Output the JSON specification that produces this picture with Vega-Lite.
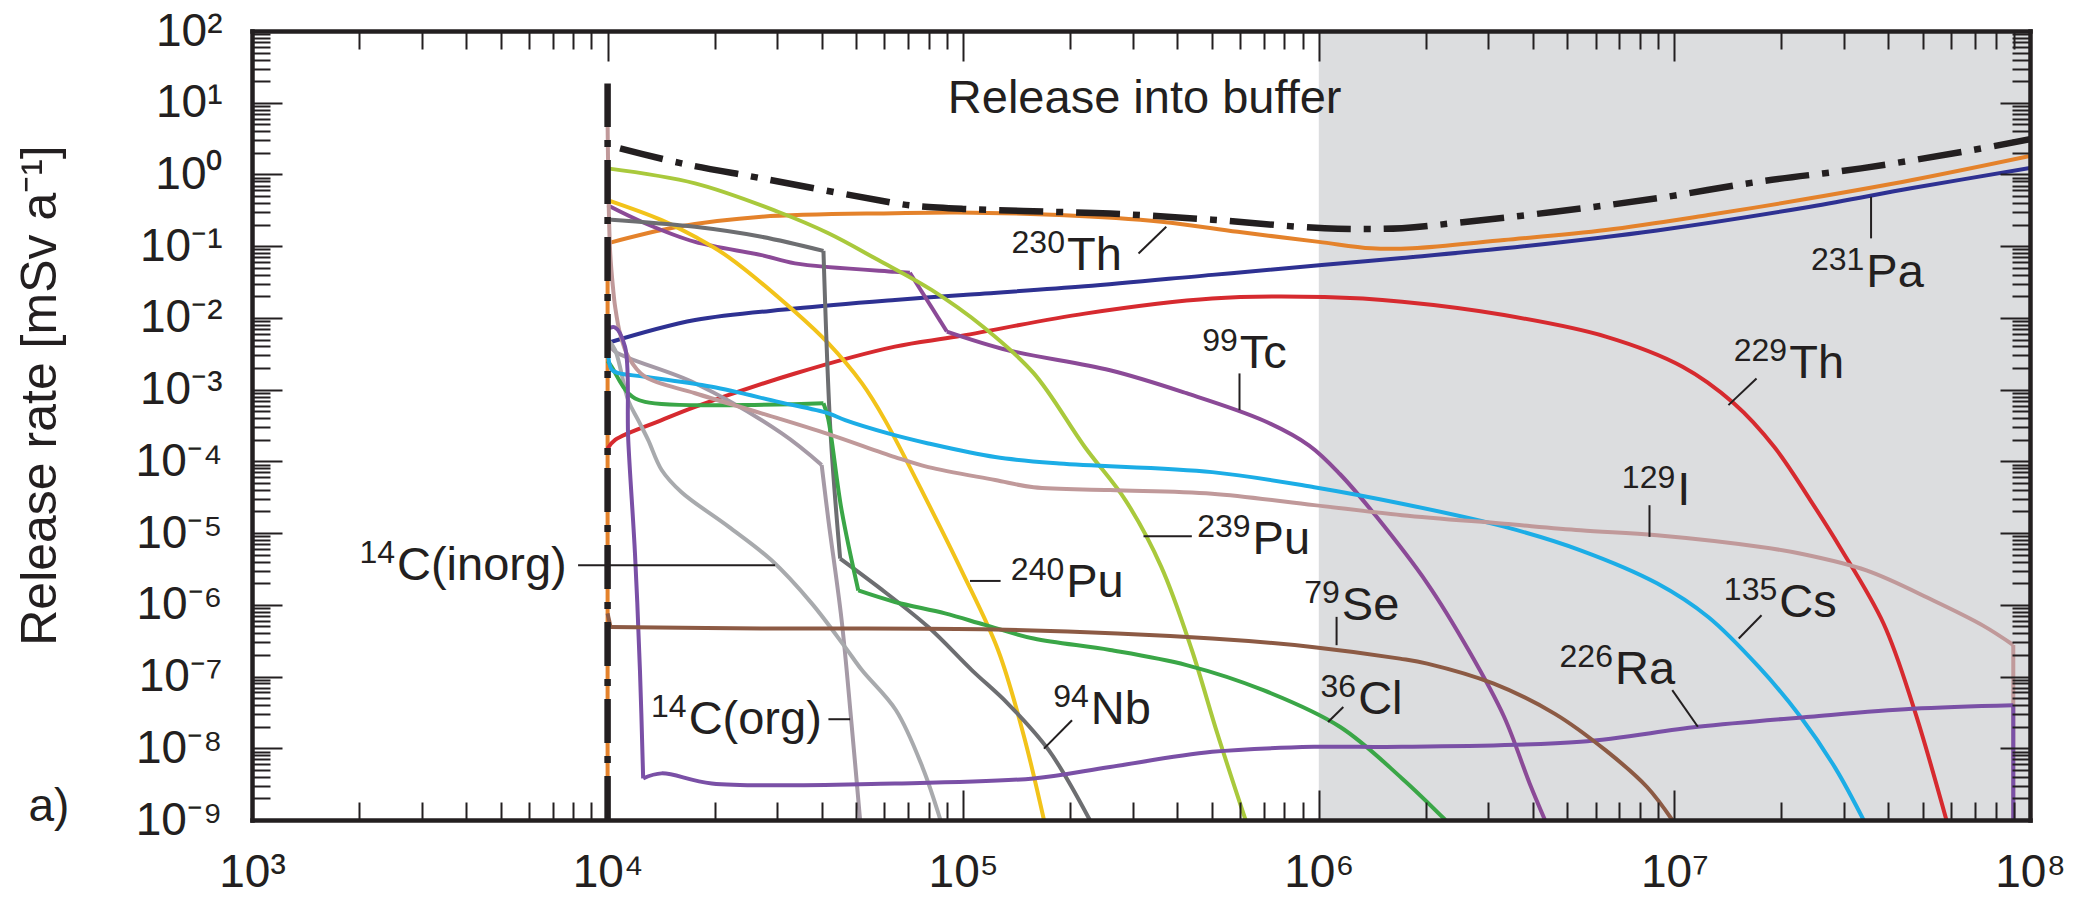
{
  "$schema": "https://vega.github.io/schema/vega-lite/v6.json",
  "width": 1778,
  "height": 789,
  "autosize": {"type": "none"},
  "padding": {"left": 252, "top": 31, "right": 70, "bottom": 78},
  "background": "white",
  "config": {"view": {"stroke": null}, "font": "Liberation Sans", "axis": {"grid": false}},
  "datasets": {
    "band": [{"t": 1000000, "t2": 100000000}],
    "total": [
      {"g": "v", "i": 1, "t": 10000, "r": 1e-9}, {"g": "v", "i": 2, "t": 10000, "r": 18.6},
      {"g": "a", "i": 3, "t": 10840, "r": 2.312},
      {"g": "a", "i": 4, "t": 16140, "r": 1.429}, {"g": "a", "i": 5, "t": 27100, "r": 0.883}, {"g": "a", "i": 6, "t": 64270, "r": 0.398},
      {"g": "a", "i": 7, "t": 73790, "r": 0.363}, {"g": "a", "i": 8, "t": 100000, "r": 0.331}, {"g": "a", "i": 9, "t": 147600, "r": 0.309},
      {"g": "a", "i": 10, "t": 258800, "r": 0.285}, {"g": "a", "i": 11, "t": 501200, "r": 0.234}, {"g": "a", "i": 12, "t": 1038000, "r": 0.178},
      {"g": "a", "i": 13, "t": 1714000, "r": 0.178}, {"g": "a", "i": 14, "t": 2382000, "r": 0.209}, {"g": "a", "i": 15, "t": 4613000, "r": 0.302},
      {"g": "a", "i": 16, "t": 8933000, "r": 0.465}, {"g": "a", "i": 17, "t": 17300000, "r": 0.794}, {"g": "a", "i": 18, "t": 33500000, "r": 1.216},
      {"g": "a", "i": 19, "t": 64860000, "r": 2.075}, {"g": "a", "i": 20, "t": 100000000, "r": 3.09}
    ],
    "curves": [
      {"s": "230Th", "g": "230Th-v", "i": 1, "t": 10000, "r": 1e-9}, {"s": "230Th", "g": "230Th-v", "i": 2, "t": 10000, "r": 0.1096},
      {"s": "230Th", "g": "230Th-a", "i": 2, "t": 10000, "r": 0.1096},
      {"s": "230Th", "g": "230Th-a", "i": 3, "t": 15780, "r": 0.1862}, {"s": "230Th", "g": "230Th-a", "i": 4, "t": 27100, "r": 0.257},
      {"s": "230Th", "g": "230Th-a", "i": 5, "t": 64270, "r": 0.2884}, {"s": "230Th", "g": "230Th-a", "i": 6, "t": 96160, "r": 0.2951},
      {"s": "230Th", "g": "230Th-a", "i": 7, "t": 186200, "r": 0.2716}, {"s": "230Th", "g": "230Th-a", "i": 8, "t": 360600, "r": 0.2188},
      {"s": "230Th", "g": "230Th-a", "i": 9, "t": 591600, "r": 0.1585}, {"s": "230Th", "g": "230Th-a", "i": 10, "t": 1000000, "r": 0.1148},
      {"s": "230Th", "g": "230Th-a", "i": 11, "t": 1406000, "r": 0.0933}, {"s": "230Th", "g": "230Th-a", "i": 12, "t": 1832000, "r": 0.0933},
      {"s": "230Th", "g": "230Th-a", "i": 13, "t": 3319000, "r": 0.1216}, {"s": "230Th", "g": "230Th-a", "i": 14, "t": 6412000, "r": 0.1679},
      {"s": "230Th", "g": "230Th-a", "i": 15, "t": 12450000, "r": 0.2716}, {"s": "230Th", "g": "230Th-a", "i": 16, "t": 24100000, "r": 0.4645},
      {"s": "230Th", "g": "230Th-a", "i": 17, "t": 46670000, "r": 0.8356}, {"s": "230Th", "g": "230Th-a", "i": 18, "t": 100000000, "r": 1.807},

      {"s": "231Pa", "g": "231Pa", "i": 1, "t": 10000, "r": 0.004467}, {"s": "231Pa", "g": "231Pa", "i": 2, "t": 17620, "r": 0.00933},
      {"s": "231Pa", "g": "231Pa", "i": 3, "t": 33650, "r": 0.01349}, {"s": "231Pa", "g": "231Pa", "i": 4, "t": 64270, "r": 0.01778},
      {"s": "231Pa", "g": "231Pa", "i": 5, "t": 100000, "r": 0.02089}, {"s": "231Pa", "g": "231Pa", "i": 6, "t": 219800, "r": 0.02754},
      {"s": "231Pa", "g": "231Pa", "i": 7, "t": 501200, "r": 0.03981}, {"s": "231Pa", "g": "231Pa", "i": 8, "t": 1038000, "r": 0.05495},
      {"s": "231Pa", "g": "231Pa", "i": 9, "t": 1714000, "r": 0.06839}, {"s": "231Pa", "g": "231Pa", "i": 10, "t": 3319000, "r": 0.0933},
      {"s": "231Pa", "g": "231Pa", "i": 11, "t": 8933000, "r": 0.166}, {"s": "231Pa", "g": "231Pa", "i": 12, "t": 24100000, "r": 0.3548},
      {"s": "231Pa", "g": "231Pa", "i": 13, "t": 46670000, "r": 0.6457}, {"s": "231Pa", "g": "231Pa", "i": 14, "t": 100000000, "r": 1.23},

      {"s": "229Th", "g": "229Th", "i": 1, "t": 10000, "r": 0.0001514}, {"s": "229Th", "g": "229Th", "i": 2, "t": 10500, "r": 0.0001995},
      {"s": "229Th", "g": "229Th", "i": 3, "t": 14190, "r": 0.0003758}, {"s": "229Th", "g": "229Th", "i": 4, "t": 17620, "r": 0.0005754},
      {"s": "229Th", "g": "229Th", "i": 5, "t": 33650, "r": 0.001679}, {"s": "229Th", "g": "229Th", "i": 6, "t": 64270, "r": 0.003981},
      {"s": "229Th", "g": "229Th", "i": 7, "t": 96160, "r": 0.005495}, {"s": "229Th", "g": "229Th", "i": 8, "t": 219800, "r": 0.01148},
      {"s": "229Th", "g": "229Th", "i": 9, "t": 501200, "r": 0.01862}, {"s": "229Th", "g": "229Th", "i": 10, "t": 1038000, "r": 0.0195},
      {"s": "229Th", "g": "229Th", "i": 11, "t": 1714000, "r": 0.01679}, {"s": "229Th", "g": "229Th", "i": 12, "t": 3319000, "r": 0.01096},
      {"s": "229Th", "g": "229Th", "i": 13, "t": 6412000, "r": 0.005495}, {"s": "229Th", "g": "229Th", "i": 14, "t": 10540000, "r": 0.002089},
      {"s": "229Th", "g": "229Th", "i": 15, "t": 14690000, "r": 0.0006457}, {"s": "229Th", "g": "229Th", "i": 16, "t": 19100000, "r": 0.0001585},
      {"s": "229Th", "g": "229Th", "i": 17, "t": 24100000, "r": 2.884e-5}, {"s": "229Th", "g": "229Th", "i": 18, "t": 29240000, "r": 6.31e-6},
      {"s": "229Th", "g": "229Th", "i": 19, "t": 38730000, "r": 5.495e-7}, {"s": "229Th", "g": "229Th", "i": 20, "t": 46990000, "r": 3.802e-8},
      {"s": "229Th", "g": "229Th", "i": 21, "t": 58210000, "r": 1e-9},

      {"s": "99Tc", "g": "99Tc-a", "i": 1, "t": 10000, "r": 0.3715}, {"s": "99Tc", "g": "99Tc-a", "i": 2, "t": 12740, "r": 0.2089},
      {"s": "99Tc", "g": "99Tc-a", "i": 3, "t": 17620, "r": 0.1148}, {"s": "99Tc", "g": "99Tc-a", "i": 4, "t": 27100, "r": 0.07516},
      {"s": "99Tc", "g": "99Tc-a", "i": 5, "t": 33650, "r": 0.05754}, {"s": "99Tc", "g": "99Tc-a", "i": 6, "t": 64270, "r": 0.04395},
      {"s": "99Tc", "g": "99Tc-a", "i": 7, "t": 70790, "r": 0.04266},
      {"s": "99Tc", "g": "99Tc-b", "i": 7, "t": 70790, "r": 0.04266}, {"s": "99Tc", "g": "99Tc-b", "i": 8, "t": 89950, "r": 0.006457},
      {"s": "99Tc", "g": "99Tc-c", "i": 8, "t": 89950, "r": 0.006457},
      {"s": "99Tc", "g": "99Tc-c", "i": 9, "t": 133700, "r": 0.003548}, {"s": "99Tc", "g": "99Tc-c", "i": 10, "t": 258800, "r": 0.001862},
      {"s": "99Tc", "g": "99Tc-c", "i": 11, "t": 424600, "r": 0.0008913}, {"s": "99Tc", "g": "99Tc-c", "i": 12, "t": 698200, "r": 0.0003715},
      {"s": "99Tc", "g": "99Tc-c", "i": 13, "t": 939700, "r": 0.000166}, {"s": "99Tc", "g": "99Tc-c", "i": 14, "t": 1148000, "r": 6.61e-5},
      {"s": "99Tc", "g": "99Tc-c", "i": 15, "t": 1452000, "r": 1.698e-5}, {"s": "99Tc", "g": "99Tc-c", "i": 16, "t": 2018000, "r": 1.995e-6},
      {"s": "99Tc", "g": "99Tc-c", "i": 17, "t": 2636000, "r": 2.344e-7}, {"s": "99Tc", "g": "99Tc-c", "i": 18, "t": 3319000, "r": 2.754e-8},
      {"s": "99Tc", "g": "99Tc-c", "i": 19, "t": 3917000, "r": 3.236e-9}, {"s": "99Tc", "g": "99Tc-c", "i": 20, "t": 4325000, "r": 1e-9},

      {"s": "239Pu", "g": "239Pu", "i": 1, "t": 10000, "r": 1.216}, {"s": "239Pu", "g": "239Pu", "i": 2, "t": 17620, "r": 0.7516},
      {"s": "239Pu", "g": "239Pu", "i": 3, "t": 30130, "r": 0.302}, {"s": "239Pu", "g": "239Pu", "i": 4, "t": 41780, "r": 0.1514},
      {"s": "239Pu", "g": "239Pu", "i": 5, "t": 57540, "r": 0.06457}, {"s": "239Pu", "g": "239Pu", "i": 6, "t": 81470, "r": 0.02455},
      {"s": "239Pu", "g": "239Pu", "i": 7, "t": 113500, "r": 0.007586}, {"s": "239Pu", "g": "239Pu", "i": 8, "t": 157800, "r": 0.001698},
      {"s": "239Pu", "g": "239Pu", "i": 9, "t": 219800, "r": 0.0001585}, {"s": "239Pu", "g": "239Pu", "i": 10, "t": 285800, "r": 2.884e-5},
      {"s": "239Pu", "g": "239Pu", "i": 11, "t": 360600, "r": 3.388e-6}, {"s": "239Pu", "g": "239Pu", "i": 12, "t": 439500, "r": 2.344e-7},
      {"s": "239Pu", "g": "239Pu", "i": 13, "t": 518800, "r": 1.585e-8}, {"s": "239Pu", "g": "239Pu", "i": 14, "t": 622300, "r": 1e-9},

      {"s": "240Pu", "g": "240Pu", "i": 1, "t": 10000, "r": 0.4395}, {"s": "240Pu", "g": "240Pu", "i": 2, "t": 14190, "r": 0.2312},
      {"s": "240Pu", "g": "240Pu", "i": 3, "t": 17620, "r": 0.1349}, {"s": "240Pu", "g": "240Pu", "i": 4, "t": 21830, "r": 0.07112},
      {"s": "240Pu", "g": "240Pu", "i": 5, "t": 33650, "r": 0.01216}, {"s": "240Pu", "g": "240Pu", "i": 6, "t": 41780, "r": 0.004406},
      {"s": "240Pu", "g": "240Pu", "i": 7, "t": 51880, "r": 0.00123}, {"s": "240Pu", "g": "240Pu", "i": 8, "t": 60260, "r": 0.0003758},
      {"s": "240Pu", "g": "240Pu", "i": 9, "t": 79800, "r": 2.57e-5}, {"s": "240Pu", "g": "240Pu", "i": 10, "t": 98850, "r": 3.02e-6},
      {"s": "240Pu", "g": "240Pu", "i": 11, "t": 125300, "r": 2.344e-7}, {"s": "240Pu", "g": "240Pu", "i": 12, "t": 147600, "r": 1.585e-8},
      {"s": "240Pu", "g": "240Pu", "i": 13, "t": 168700, "r": 1e-9},

      {"s": "94Nb", "g": "94Nb-a", "i": 1, "t": 10000, "r": 0.236}, {"s": "94Nb", "g": "94Nb-a", "i": 2, "t": 17620, "r": 0.1862},
      {"s": "94Nb", "g": "94Nb-a", "i": 3, "t": 27100, "r": 0.1352}, {"s": "94Nb", "g": "94Nb-a", "i": 4, "t": 40460, "r": 0.0859},
      {"s": "94Nb", "g": "94Nb-b", "i": 4, "t": 40460, "r": 0.0859},
      {"s": "94Nb", "g": "94Nb-b", "i": 5, "t": 42360, "r": 0.0002512}, {"s": "94Nb", "g": "94Nb-b", "i": 6, "t": 45080, "r": 4.416e-6},
      {"s": "94Nb", "g": "94Nb-c", "i": 6, "t": 45080, "r": 4.416e-6},
      {"s": "94Nb", "g": "94Nb-c", "i": 7, "t": 57680, "r": 1.778e-6}, {"s": "94Nb", "g": "94Nb-c", "i": 8, "t": 79800, "r": 4.898e-7},
      {"s": "94Nb", "g": "94Nb-c", "i": 9, "t": 105700, "r": 1.23e-7}, {"s": "94Nb", "g": "94Nb-c", "i": 10, "t": 133700, "r": 4.169e-8},
      {"s": "94Nb", "g": "94Nb-c", "i": 11, "t": 174200, "r": 9.333e-9}, {"s": "94Nb", "g": "94Nb-c", "i": 12, "t": 227000, "r": 1e-9},

      {"s": "14Corg", "g": "14Corg-a", "i": 1, "t": 10000, "r": 0.004467}, {"s": "14Corg", "g": "14Corg-a", "i": 2, "t": 10500, "r": 0.003388},
      {"s": "14Corg", "g": "14Corg-a", "i": 3, "t": 17620, "r": 0.00123}, {"s": "14Corg", "g": "14Corg-a", "i": 4, "t": 30900, "r": 0.0002455},
      {"s": "14Corg", "g": "14Corg-a", "i": 5, "t": 39990, "r": 8.913e-5},
      {"s": "14Corg", "g": "14Corg-b", "i": 5, "t": 39990, "r": 8.913e-5}, {"s": "14Corg", "g": "14Corg-b", "i": 6, "t": 41780, "r": 1.514e-5},
      {"s": "14Corg", "g": "14Corg-b", "i": 7, "t": 45500, "r": 6.166e-7}, {"s": "14Corg", "g": "14Corg-b", "i": 8, "t": 48530, "r": 2.188e-8},
      {"s": "14Corg", "g": "14Corg-b", "i": 9, "t": 51290, "r": 1e-9},

      {"s": "14Cinorg", "g": "14Cinorg", "i": 1, "t": 10000, "r": 0.005012}, {"s": "14Cinorg", "g": "14Cinorg", "i": 2, "t": 10500, "r": 0.003548},
      {"s": "14Cinorg", "g": "14Cinorg", "i": 3, "t": 11430, "r": 0.0007079}, {"s": "14Cinorg", "g": "14Cinorg", "i": 4, "t": 12190, "r": 0.0003758},
      {"s": "14Cinorg", "g": "14Cinorg", "i": 5, "t": 13000, "r": 0.0001995}, {"s": "14Cinorg", "g": "14Cinorg", "i": 6, "t": 14190, "r": 7.586e-5},
      {"s": "14Cinorg", "g": "14Cinorg", "i": 7, "t": 16140, "r": 3.715e-5}, {"s": "14Cinorg", "g": "14Cinorg", "i": 8, "t": 21880, "r": 1.23e-5},
      {"s": "14Cinorg", "g": "14Cinorg", "i": 9, "t": 28910, "r": 4.169e-6}, {"s": "14Cinorg", "g": "14Cinorg", "i": 10, "t": 37500, "r": 1.047e-6},
      {"s": "14Cinorg", "g": "14Cinorg", "i": 11, "t": 46560, "r": 2.57e-7}, {"s": "14Cinorg", "g": "14Cinorg", "i": 12, "t": 51880, "r": 1.23e-7},
      {"s": "14Cinorg", "g": "14Cinorg", "i": 13, "t": 64710, "r": 3.388e-8}, {"s": "14Cinorg", "g": "14Cinorg", "i": 14, "t": 76910, "r": 5.37e-9},
      {"s": "14Cinorg", "g": "14Cinorg", "i": 15, "t": 86300, "r": 1e-9},

      {"s": "36Cl", "g": "36Cl-a", "i": 1, "t": 10000, "r": 0.002512}, {"s": "36Cl", "g": "36Cl-a", "i": 2, "t": 10260, "r": 0.002089},
      {"s": "36Cl", "g": "36Cl-a", "i": 3, "t": 11430, "r": 0.0008913}, {"s": "36Cl", "g": "36Cl-a", "i": 4, "t": 12740, "r": 0.0006761},
      {"s": "36Cl", "g": "36Cl-a", "i": 5, "t": 40460, "r": 0.0006457},
      {"s": "36Cl", "g": "36Cl-b", "i": 5, "t": 40460, "r": 0.0006457}, {"s": "36Cl", "g": "36Cl-b", "i": 6, "t": 41690, "r": 0.0003981},
      {"s": "36Cl", "g": "36Cl-b", "i": 7, "t": 45500, "r": 2.089e-5}, {"s": "36Cl", "g": "36Cl-b", "i": 8, "t": 50700, "r": 1.585e-6},
      {"s": "36Cl", "g": "36Cl-c", "i": 8, "t": 50700, "r": 1.585e-6},
      {"s": "36Cl", "g": "36Cl-c", "i": 9, "t": 64270, "r": 1.096e-6}, {"s": "36Cl", "g": "36Cl-c", "i": 10, "t": 88920, "r": 7.586e-7},
      {"s": "36Cl", "g": "36Cl-c", "i": 11, "t": 115100, "r": 5.248e-7}, {"s": "36Cl", "g": "36Cl-c", "i": 12, "t": 157800, "r": 3.388e-7},
      {"s": "36Cl", "g": "36Cl-c", "i": 13, "t": 258800, "r": 2.344e-7}, {"s": "36Cl", "g": "36Cl-c", "i": 14, "t": 424600, "r": 1.445e-7},
      {"s": "36Cl", "g": "36Cl-c", "i": 15, "t": 698200, "r": 6.457e-8}, {"s": "36Cl", "g": "36Cl-c", "i": 16, "t": 1146000, "r": 1.995e-8},
      {"s": "36Cl", "g": "36Cl-c", "i": 17, "t": 1714000, "r": 3.802e-9}, {"s": "36Cl", "g": "36Cl-c", "i": 18, "t": 2270000, "r": 1e-9},

      {"s": "135Cs", "g": "135Cs", "i": 1, "t": 10000, "r": 0.003548}, {"s": "135Cs", "g": "135Cs", "i": 2, "t": 10260, "r": 0.001905},
      {"s": "135Cs", "g": "135Cs", "i": 3, "t": 10720, "r": 0.001698}, {"s": "135Cs", "g": "135Cs", "i": 4, "t": 12740, "r": 0.001514},
      {"s": "135Cs", "g": "135Cs", "i": 5, "t": 19630, "r": 0.001096}, {"s": "135Cs", "g": "135Cs", "i": 6, "t": 30200, "r": 0.0006761},
      {"s": "135Cs", "g": "135Cs", "i": 7, "t": 41780, "r": 0.0004677}, {"s": "135Cs", "g": "135Cs", "i": 8, "t": 46560, "r": 0.0003758},
      {"s": "135Cs", "g": "135Cs", "i": 9, "t": 61520, "r": 0.0002455}, {"s": "135Cs", "g": "135Cs", "i": 10, "t": 79800, "r": 0.0001778},
      {"s": "135Cs", "g": "135Cs", "i": 11, "t": 123000, "r": 0.0001148}, {"s": "135Cs", "g": "135Cs", "i": 12, "t": 186200, "r": 9.333e-5},
      {"s": "135Cs", "g": "135Cs", "i": 13, "t": 501200, "r": 7.079e-5}, {"s": "135Cs", "g": "135Cs", "i": 14, "t": 970500, "r": 4.365e-5},
      {"s": "135Cs", "g": "135Cs", "i": 15, "t": 1714000, "r": 2.57e-5}, {"s": "135Cs", "g": "135Cs", "i": 16, "t": 3319000, "r": 1.23e-5},
      {"s": "135Cs", "g": "135Cs", "i": 17, "t": 5445000, "r": 5.754e-6}, {"s": "135Cs", "g": "135Cs", "i": 18, "t": 8933000, "r": 1.995e-6},
      {"s": "135Cs", "g": "135Cs", "i": 19, "t": 12450000, "r": 6.761e-7}, {"s": "135Cs", "g": "135Cs", "i": 20, "t": 17300000, "r": 1.349e-7},
      {"s": "135Cs", "g": "135Cs", "i": 21, "t": 22540000, "r": 2.818e-8}, {"s": "135Cs", "g": "135Cs", "i": 22, "t": 28380000, "r": 5.248e-9},
      {"s": "135Cs", "g": "135Cs", "i": 23, "t": 34040000, "r": 1e-9},

      {"s": "129I", "g": "129I-a", "i": 1, "t": 10000, "r": 5.37}, {"s": "129I", "g": "129I-a", "i": 2, "t": 10160, "r": 0.08913},
      {"s": "129I", "g": "129I-a", "i": 3, "t": 10370, "r": 0.02455}, {"s": "129I", "g": "129I-a", "i": 4, "t": 10500, "r": 0.01429},
      {"s": "129I", "g": "129I-a", "i": 5, "t": 10840, "r": 0.006026}, {"s": "129I", "g": "129I-a", "i": 6, "t": 11430, "r": 0.002884},
      {"s": "129I", "g": "129I-a", "i": 7, "t": 12740, "r": 0.001514}, {"s": "129I", "g": "129I-a", "i": 8, "t": 17620, "r": 0.0008913},
      {"s": "129I", "g": "129I-a", "i": 9, "t": 27100, "r": 0.0004677}, {"s": "129I", "g": "129I-a", "i": 10, "t": 41780, "r": 0.0002399},
      {"s": "129I", "g": "129I-a", "i": 11, "t": 64270, "r": 0.0001148}, {"s": "129I", "g": "129I-a", "i": 12, "t": 79800, "r": 8.318e-5},
      {"s": "129I", "g": "129I-a", "i": 13, "t": 123000, "r": 5.495e-5}, {"s": "129I", "g": "129I-a", "i": 14, "t": 157800, "r": 4.365e-5},
      {"s": "129I", "g": "129I-a", "i": 15, "t": 258800, "r": 3.981e-5}, {"s": "129I", "g": "129I-a", "i": 16, "t": 501200, "r": 3.548e-5},
      {"s": "129I", "g": "129I-a", "i": 17, "t": 970500, "r": 2.455e-5}, {"s": "129I", "g": "129I-a", "i": 18, "t": 1714000, "r": 1.778e-5},
      {"s": "129I", "g": "129I-a", "i": 19, "t": 3319000, "r": 1.349e-5}, {"s": "129I", "g": "129I-a", "i": 20, "t": 5445000, "r": 1.096e-5},
      {"s": "129I", "g": "129I-a", "i": 21, "t": 8933000, "r": 9.333e-6}, {"s": "129I", "g": "129I-a", "i": 22, "t": 17300000, "r": 6.457e-6},
      {"s": "129I", "g": "129I-a", "i": 23, "t": 22540000, "r": 5.188e-6}, {"s": "129I", "g": "129I-a", "i": 24, "t": 34670000, "r": 3.02e-6},
      {"s": "129I", "g": "129I-a", "i": 25, "t": 53460000, "r": 1.148e-6}, {"s": "129I", "g": "129I-a", "i": 26, "t": 73790000, "r": 5.129e-7},
      {"s": "129I", "g": "129I-a", "i": 27, "t": 89740000, "r": 2.754e-7},
      {"s": "129I", "g": "129I-v", "i": 27, "t": 89740000, "r": 2.754e-7}, {"s": "129I", "g": "129I-v", "i": 28, "t": 89740000, "r": 1e-9},

      {"s": "226Ra", "g": "226Ra-a", "i": 1, "t": 10000, "r": 0.007079}, {"s": "226Ra", "g": "226Ra-a", "i": 2, "t": 10470, "r": 0.007413},
      {"s": "226Ra", "g": "226Ra-a", "i": 3, "t": 11190, "r": 0.003981}, {"s": "226Ra", "g": "226Ra-a", "i": 4, "t": 11430, "r": 0.0001995},
      {"s": "226Ra", "g": "226Ra-a", "i": 5, "t": 11940, "r": 5.188e-6}, {"s": "226Ra", "g": "226Ra-a", "i": 6, "t": 12330, "r": 1.23e-7},
      {"s": "226Ra", "g": "226Ra-a", "i": 7, "t": 12590, "r": 3.802e-9},
      {"s": "226Ra", "g": "226Ra-b", "i": 7, "t": 12590, "r": 3.802e-9}, {"s": "226Ra", "g": "226Ra-b", "i": 8, "t": 14190, "r": 4.467e-9},
      {"s": "226Ra", "g": "226Ra-b", "i": 9, "t": 19630, "r": 3.236e-9}, {"s": "226Ra", "g": "226Ra-b", "i": 10, "t": 64270, "r": 3.236e-9},
      {"s": "226Ra", "g": "226Ra-b", "i": 11, "t": 157800, "r": 3.802e-9}, {"s": "226Ra", "g": "226Ra-b", "i": 12, "t": 258800, "r": 5.495e-9},
      {"s": "226Ra", "g": "226Ra-b", "i": 13, "t": 501200, "r": 8.913e-9}, {"s": "226Ra", "g": "226Ra-b", "i": 14, "t": 970500, "r": 1.047e-8},
      {"s": "226Ra", "g": "226Ra-b", "i": 15, "t": 1714000, "r": 1.047e-8}, {"s": "226Ra", "g": "226Ra-b", "i": 16, "t": 5445000, "r": 1.23e-8},
      {"s": "226Ra", "g": "226Ra-b", "i": 17, "t": 11640000, "r": 1.995e-8}, {"s": "226Ra", "g": "226Ra-b", "i": 18, "t": 24100000, "r": 2.754e-8},
      {"s": "226Ra", "g": "226Ra-b", "i": 19, "t": 46670000, "r": 3.548e-8}, {"s": "226Ra", "g": "226Ra-b", "i": 20, "t": 89740000, "r": 3.981e-8},
      {"s": "226Ra", "g": "226Ra-v", "i": 20, "t": 89740000, "r": 3.981e-8}, {"s": "226Ra", "g": "226Ra-v", "i": 21, "t": 89740000, "r": 1e-9},

      {"s": "79Se", "g": "79Se-a", "i": 1, "t": 10000, "r": 7.586e-7}, {"s": "79Se", "g": "79Se-a", "i": 2, "t": 10190, "r": 4.898e-7},
      {"s": "79Se", "g": "79Se-b", "i": 2, "t": 10190, "r": 4.898e-7},
      {"s": "79Se", "g": "79Se-b", "i": 3, "t": 27100, "r": 4.677e-7}, {"s": "79Se", "g": "79Se-b", "i": 4, "t": 123000, "r": 4.519e-7},
      {"s": "79Se", "g": "79Se-b", "i": 5, "t": 501200, "r": 3.388e-7}, {"s": "79Se", "g": "79Se-b", "i": 6, "t": 970500, "r": 2.57e-7},
      {"s": "79Se", "g": "79Se-b", "i": 7, "t": 1690000, "r": 1.778e-7}, {"s": "79Se", "g": "79Se-b", "i": 8, "t": 2018000, "r": 1.514e-7},
      {"s": "79Se", "g": "79Se-b", "i": 9, "t": 3105000, "r": 7.943e-8}, {"s": "79Se", "g": "79Se-b", "i": 10, "t": 4613000, "r": 3.02e-8},
      {"s": "79Se", "g": "79Se-b", "i": 11, "t": 6412000, "r": 9.333e-9}, {"s": "79Se", "g": "79Se-b", "i": 12, "t": 8375000, "r": 2.884e-9},
      {"s": "79Se", "g": "79Se-b", "i": 13, "t": 9863000, "r": 1e-9}
    ],
    "leaders": [
      {"t": 311200, "r": 0.07925, "t2": 372400, "r2": 0.1866},
      {"t": 35730000, "r": 0.4887, "t2": 35730000, "r2": 0.1285},
      {"t": 17020000, "r": 0.001432, "t2": 14190000, "r2": 0.0006081},
      {"t": 598400, "r": 0.001683, "t2": 598400, "r2": 0.0005176},
      {"t": 321400, "r": 9.057e-6, "t2": 439500, "r2": 9.057e-6},
      {"t": 104500, "r": 2.153e-6, "t2": 127400, "r2": 2.153e-6},
      {"t": 8260, "r": 3.565e-6, "t2": 29580, "r2": 3.565e-6},
      {"t": 41780, "r": 2.541e-8, "t2": 48080, "r2": 2.541e-8},
      {"t": 202300, "r": 2.455e-8, "t2": 168700, "r2": 9.886e-9},
      {"t": 1122000, "r": 6.792e-7, "t2": 1122000, "r2": 2.735e-7},
      {"t": 1172000, "r": 3.767e-8, "t2": 1062000, "r2": 2.328e-8},
      {"t": 9863000, "r": 6.457e-8, "t2": 11640000, "r2": 1.995e-8},
      {"t": 17580000, "r": 7.161e-7, "t2": 15170000, "r2": 3.388e-7},
      {"t": 8511000, "r": 2.449e-5, "t2": 8511000, "r2": 8.851e-6}
    ],
    "labels": [
      {"sup": "230", "main": "Th", "t": 194500, "r": 0.04645},
      {"sup": "231", "main": "Pa", "t": 34430000, "r": 0.02716},
      {"sup": "229", "main": "Th", "t": 20890000, "r": 0.001432},
      {"sup": "99", "main": "Tc", "t": 595700, "r": 0.001972},
      {"sup": "239", "main": "Pu", "t": 647100, "r": 5.188e-6},
      {"sup": "240", "main": "Pu", "t": 193600, "r": 1.288e-6},
      {"sup": "14", "main": "C(inorg)", "t": 2541, "r": 2.203e-6},
      {"sup": "14", "main": "C(org)", "t": 16790, "r": 1.603e-8},
      {"sup": "94", "main": "Nb", "t": 227000, "r": 2.208e-8},
      {"sup": "79", "main": "Se", "t": 1153000, "r": 6.095e-7},
      {"sup": "36", "main": "Cl", "t": 1282000, "r": 3.048e-8},
      {"sup": "226", "main": "Ra", "t": 6761000, "r": 7.98e-8},
      {"sup": "135", "main": "Cs", "t": 19590000, "r": 6.776e-7},
      {"sup": "129", "main": "I", "t": 10120000, "r": 2.449e-5},
      {"sup": "", "main": "Release into buffer", "t": 89950, "r": 7.178}
    ]
  },
  "layer": [
    {
      "data": {"name": "band"},
      "mark": {"type": "rect", "fill": "#DCDDDF"},
      "encoding": {
        "x": {"field": "t", "type": "quantitative", "scale": {"type": "log", "domain": [1000, 100000000], "nice": false}, "axis": null},
        "x2": {"field": "t2"}
      }
    },
    {
      "data": {"name": "curves"},
      "mark": {"type": "line", "strokeWidth": 4, "strokeJoin": "round", "strokeCap": "butt", "interpolate": "catmull-rom", "clip": true},
      "encoding": {
        "x": {"field": "t", "type": "quantitative", "scale": {"type": "log", "domain": [1000, 100000000], "nice": false}, "axis": null},
        "y": {"field": "r", "type": "quantitative", "scale": {"type": "log", "domain": [1e-9, 100], "nice": false}, "axis": null},
        "color": {
          "field": "s", "type": "nominal", "legend": null,
          "scale": {
            "domain": ["230Th", "231Pa", "229Th", "99Tc", "239Pu", "240Pu", "94Nb", "14Corg", "14Cinorg", "36Cl", "135Cs", "129I", "79Se", "226Ra"],
            "range": ["#E4822B", "#2E3192", "#D62A2F", "#8B4A97", "#A9C93C", "#F2C31A", "#6D6E71", "#A59AA6", "#A8AAAD", "#3AA647", "#1CADE6", "#C0999A", "#8C5A44", "#7A50A6"]
          }
        },
        "detail": {"field": "g"},
        "order": {"field": "i", "type": "quantitative"}
      }
    },
    {
      "data": {"name": "total"},
      "mark": {"type": "line", "color": "#231F20", "strokeWidth": 6.5, "strokeDash": [44, 13, 7, 13], "strokeCap": "butt", "interpolate": "catmull-rom", "clip": true},
      "encoding": {
        "x": {"field": "t", "type": "quantitative", "scale": {"type": "log", "domain": [1000, 100000000], "nice": false}, "axis": null},
        "y": {"field": "r", "type": "quantitative", "scale": {"type": "log", "domain": [1e-9, 100], "nice": false}, "axis": null},
        "detail": {"field": "g"},
        "order": {"field": "i", "type": "quantitative"}
      }
    },
    {
      "data": {"name": "leaders"},
      "mark": {"type": "rule", "color": "#231F20", "strokeWidth": 2},
      "encoding": {
        "x": {"field": "t", "type": "quantitative", "scale": {"type": "log", "domain": [1000, 100000000], "nice": false}, "axis": null},
        "y": {"field": "r", "type": "quantitative", "scale": {"type": "log", "domain": [1e-9, 100], "nice": false}, "axis": null},
        "x2": {"field": "t2"},
        "y2": {"field": "r2"}
      }
    },
    {
      "data": {"name": "labels"},
      "mark": {"type": "text", "align": "right", "baseline": "alphabetic", "fontSize": 32, "dy": -17, "dx": -1, "color": "#231F20", "font": "Liberation Sans"},
      "encoding": {
        "x": {"field": "t", "type": "quantitative", "scale": {"type": "log", "domain": [1000, 100000000], "nice": false}, "axis": null},
        "y": {"field": "r", "type": "quantitative", "scale": {"type": "log", "domain": [1e-9, 100], "nice": false}, "axis": null},
        "text": {"field": "sup"}
      }
    },
    {
      "data": {"name": "labels"},
      "mark": {"type": "text", "align": "left", "baseline": "alphabetic", "fontSize": 47, "dx": 1, "color": "#231F20", "font": "Liberation Sans"},
      "encoding": {
        "x": {"field": "t", "type": "quantitative", "scale": {"type": "log", "domain": [1000, 100000000], "nice": false}, "axis": null},
        "y": {"field": "r", "type": "quantitative", "scale": {"type": "log", "domain": [1e-9, 100], "nice": false}, "axis": null},
        "text": {"field": "main"}
      }
    },
    {
      "data": {"name": "labels"},
      "mark": {"type": "point", "opacity": 0},
      "encoding": {
        "x": {"field": "t", "type": "quantitative", "scale": {"type": "log", "domain": [1000, 100000000], "nice": false},
          "axis": {"orient": "bottom", "values": [1000, 10000, 100000, 1000000, 10000000, 100000000], "ticks": false, "tickSize": 0, "domain": false,
            "labelExpr": "'10' + ['⁰','¹','²','³','⁴','⁵','⁶','⁷','⁸','⁹'][round(log(datum.value)/LN10)]",
            "labelFontSize": 46, "labelFont": "Liberation Sans", "labelColor": "#231F20", "labelPadding": 30, "labelBaseline": "top", "labelAlign": "center",
            "labelOverlap": false, "labelFlush": false, "labelBound": false, "grid": false,
            "title": "a)", "titleFont": "Liberation Sans", "titleFontSize": 46, "titleFontWeight": "normal", "titleColor": "#231F20",
            "titleX": -224, "titleY": 0, "titleAngle": 0, "titleAlign": "left", "titleBaseline": "alphabetic"}},
        "y": {"field": "r", "type": "quantitative", "scale": {"type": "log", "domain": [1e-9, 100], "nice": false},
          "axis": {"orient": "left", "values": [1e-9, 1e-8, 1e-7, 1e-6, 1e-5, 1e-4, 0.001, 0.01, 0.1, 1, 10, 100], "ticks": false, "tickSize": 0, "domain": false,
            "labelExpr": "'10' + (datum.value < 1 ? '⁻' : '') + ['⁰','¹','²','³','⁴','⁵','⁶','⁷','⁸','⁹'][abs(round(log(datum.value)/LN10))]",
            "labelFontSize": 46, "labelFont": "Liberation Sans", "labelColor": "#231F20", "labelPadding": 30, "labelAlign": "right", "labelBaseline": "middle",
            "labelOverlap": false, "labelFlush": false, "labelBound": false, "grid": false,
            "title": "Release rate [mSv a⁻¹]", "titleFont": "Liberation Sans", "titleFontSize": 50, "titleFontWeight": "normal", "titleColor": "#231F20",
            "titleX": -197, "titleY": 364, "titleAngle": -90, "titleBaseline": "alphabetic", "titleAlign": "center"}}
      }
    },
    {
      "data": {"name": "labels"},
      "mark": {"type": "point", "opacity": 0},
      "encoding": {
        "x": {"field": "t", "type": "quantitative", "scale": {"type": "log", "domain": [1000, 100000000], "nice": false},
          "axis": {"orient": "bottom", "labels": false, "ticks": true, "title": null, "grid": false, "zindex": 1,
            "values": [1000, 2000, 3000, 4000, 5000, 6000, 7000, 8000, 9000, 10000, 20000, 30000, 40000, 50000, 60000, 70000, 80000, 90000, 100000, 200000, 300000, 400000, 500000, 600000, 700000, 800000, 900000, 1000000, 2000000, 3000000, 4000000, 5000000, 6000000, 7000000, 8000000, 9000000, 10000000, 20000000, 30000000, 40000000, 50000000, 60000000, 70000000, 80000000, 90000000, 100000000],
            "tickSize": {"condition": {"test": "abs(log(datum.value)/LN10 - round(log(datum.value)/LN10)) < 0.001", "value": -30}, "value": -18},
            "tickWidth": 2, "tickColor": "#231F20",
            "domain": true, "domainWidth": 4.5, "domainColor": "#231F20", "domainCap": "square"}},
        "y": {"field": "r", "type": "quantitative", "scale": {"type": "log", "domain": [1e-9, 100], "nice": false},
          "axis": {"orient": "left", "labels": false, "ticks": true, "title": null, "grid": false, "zindex": 1,
            "values": [1e-9, 2e-9, 3e-9, 4e-9, 5e-9, 6e-9, 7e-9, 8e-9, 9e-9, 1e-8, 2e-8, 3e-8, 4e-8, 5e-8, 6e-8, 7e-8, 8e-8, 9e-8, 1e-7, 2e-7, 3e-7, 4e-7, 5e-7, 6e-7, 7e-7, 8e-7, 9e-7, 1e-6, 2e-6, 3e-6, 4e-6, 5e-6, 6e-6, 7e-6, 8e-6, 9e-6, 1e-5, 2e-5, 3e-5, 4e-5, 5e-5, 6e-5, 7e-5, 8e-5, 9e-5, 1e-4, 2e-4, 3e-4, 4e-4, 5e-4, 6e-4, 7e-4, 8e-4, 9e-4, 0.001, 0.002, 0.003, 0.004, 0.005, 0.006, 0.007, 0.008, 0.009, 0.01, 0.02, 0.03, 0.04, 0.05, 0.06, 0.07, 0.08, 0.09, 0.1, 0.2, 0.3, 0.4, 0.5, 0.6, 0.7, 0.8, 0.9, 1, 2, 3, 4, 5, 6, 7, 8, 9, 10, 20, 30, 40, 50, 60, 70, 80, 90, 100],
            "tickSize": {"condition": {"test": "abs(log(datum.value)/LN10 - round(log(datum.value)/LN10)) < 0.001", "value": -30}, "value": -18},
            "tickWidth": 2, "tickColor": "#231F20",
            "domain": true, "domainWidth": 4.5, "domainColor": "#231F20", "domainCap": "square"}}
      }
    },
    {
      "data": {"name": "labels"},
      "mark": {"type": "point", "opacity": 0},
      "encoding": {
        "x": {"field": "t", "type": "quantitative", "scale": {"type": "log", "domain": [1000, 100000000], "nice": false},
          "axis": {"orient": "top", "labels": false, "ticks": true, "title": null, "grid": false, "zindex": 1,
            "values": [1000, 2000, 3000, 4000, 5000, 6000, 7000, 8000, 9000, 10000, 20000, 30000, 40000, 50000, 60000, 70000, 80000, 90000, 100000, 200000, 300000, 400000, 500000, 600000, 700000, 800000, 900000, 1000000, 2000000, 3000000, 4000000, 5000000, 6000000, 7000000, 8000000, 9000000, 10000000, 20000000, 30000000, 40000000, 50000000, 60000000, 70000000, 80000000, 90000000, 100000000],
            "tickSize": {"condition": {"test": "abs(log(datum.value)/LN10 - round(log(datum.value)/LN10)) < 0.001", "value": -30}, "value": -18},
            "tickWidth": 2, "tickColor": "#231F20",
            "domain": true, "domainWidth": 4.5, "domainColor": "#231F20", "domainCap": "square"}},
        "y": {"field": "r", "type": "quantitative", "scale": {"type": "log", "domain": [1e-9, 100], "nice": false},
          "axis": {"orient": "right", "labels": false, "ticks": true, "title": null, "grid": false, "zindex": 1,
            "values": [1e-9, 2e-9, 3e-9, 4e-9, 5e-9, 6e-9, 7e-9, 8e-9, 9e-9, 1e-8, 2e-8, 3e-8, 4e-8, 5e-8, 6e-8, 7e-8, 8e-8, 9e-8, 1e-7, 2e-7, 3e-7, 4e-7, 5e-7, 6e-7, 7e-7, 8e-7, 9e-7, 1e-6, 2e-6, 3e-6, 4e-6, 5e-6, 6e-6, 7e-6, 8e-6, 9e-6, 1e-5, 2e-5, 3e-5, 4e-5, 5e-5, 6e-5, 7e-5, 8e-5, 9e-5, 1e-4, 2e-4, 3e-4, 4e-4, 5e-4, 6e-4, 7e-4, 8e-4, 9e-4, 0.001, 0.002, 0.003, 0.004, 0.005, 0.006, 0.007, 0.008, 0.009, 0.01, 0.02, 0.03, 0.04, 0.05, 0.06, 0.07, 0.08, 0.09, 0.1, 0.2, 0.3, 0.4, 0.5, 0.6, 0.7, 0.8, 0.9, 1, 2, 3, 4, 5, 6, 7, 8, 9, 10, 20, 30, 40, 50, 60, 70, 80, 90, 100],
            "tickSize": {"condition": {"test": "abs(log(datum.value)/LN10 - round(log(datum.value)/LN10)) < 0.001", "value": -30}, "value": -18},
            "tickWidth": 2, "tickColor": "#231F20",
            "domain": true, "domainWidth": 4.5, "domainColor": "#231F20", "domainCap": "square"}}
      }
    }
  ],
  "resolve": {"axis": {"x": "independent", "y": "independent"}}
}
